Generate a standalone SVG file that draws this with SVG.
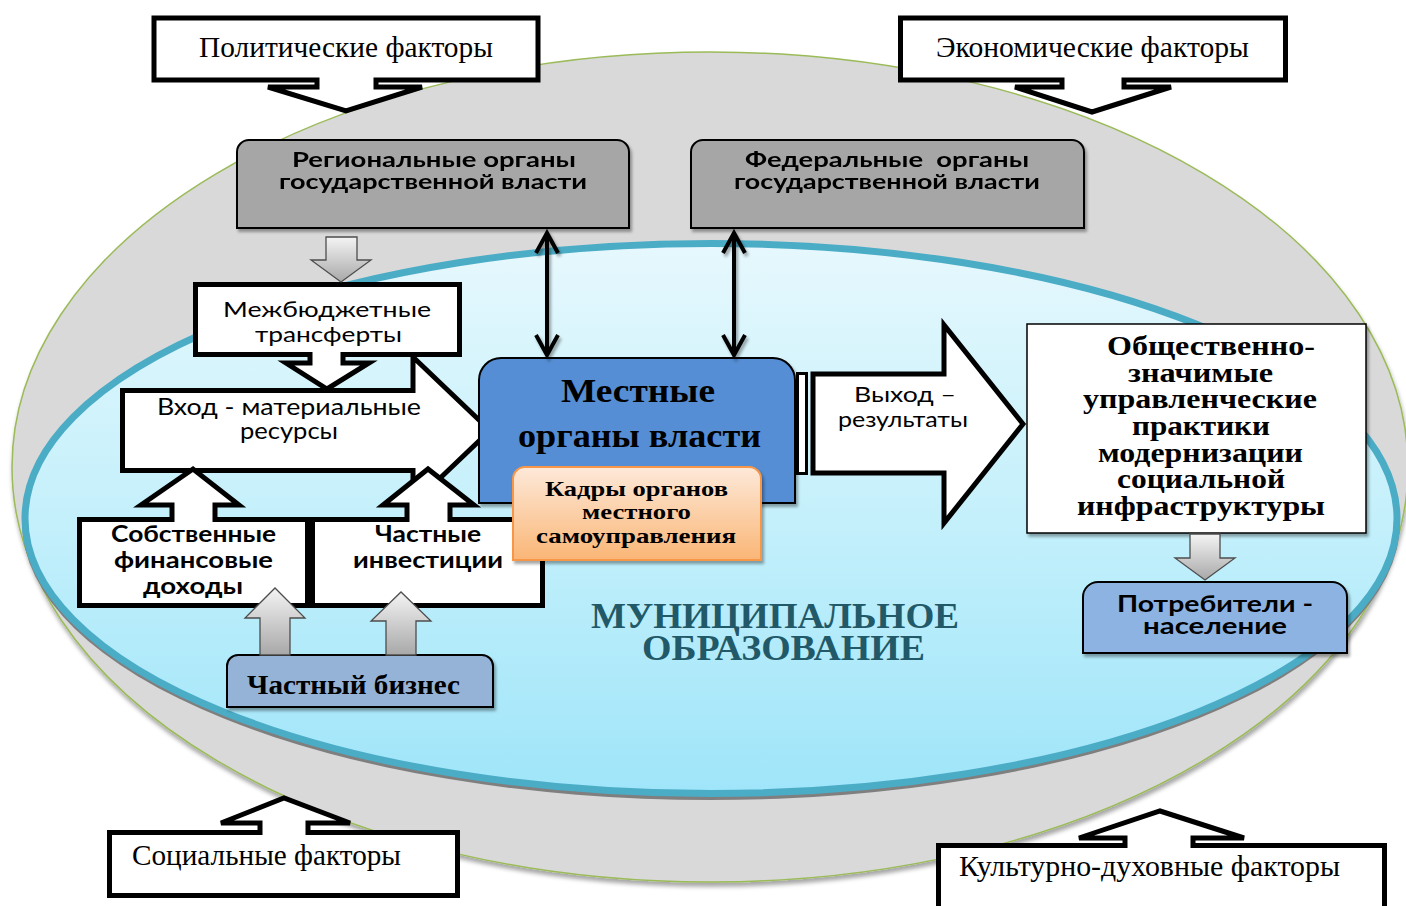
<svg xmlns="http://www.w3.org/2000/svg" width="1406" height="906" viewBox="0 0 1406 906">
<defs>
  <linearGradient id="gBlue" x1="0" y1="0" x2="0" y2="1">
    <stop offset="0" stop-color="#e6f8fd"/>
    <stop offset="0.5" stop-color="#c4f0fb"/>
    <stop offset="1" stop-color="#9fe5f9"/>
  </linearGradient>
  <linearGradient id="gArrow" x1="0" y1="0" x2="0" y2="1">
    <stop offset="0" stop-color="#f4f4f4"/>
    <stop offset="1" stop-color="#a8a8a8"/>
  </linearGradient>
  <linearGradient id="gOrange" x1="0" y1="0" x2="0" y2="1">
    <stop offset="0" stop-color="#fde9d9"/>
    <stop offset="1" stop-color="#fab676"/>
  </linearGradient>
  <filter id="sh" x="-10%" y="-10%" width="130%" height="140%">
    <feDropShadow dx="2" dy="3" stdDeviation="1.5" flood-color="#000" flood-opacity="0.35"/>
  </filter>
  <filter id="shs" x="-5%" y="-5%" width="110%" height="115%">
    <feDropShadow dx="1" dy="4" stdDeviation="2" flood-color="#000" flood-opacity="0.35"/>
  </filter>
</defs>
<style>
  .call{fill:#fff;stroke:#000;stroke-width:5;stroke-linejoin:miter}
  .gbox{fill:#a6a6a6;stroke:#000;stroke-width:2}
  .garrow{fill:url(#gArrow);stroke:#4d4d4d;stroke-width:1.3;stroke-linejoin:miter}
  .dbl{fill:none;stroke:#000;stroke-width:4}
  .ser{font-family:"Liberation Serif","Times New Roman",serif}
  .sans{font-family:Lato,"Open Sans","Noto Sans",sans-serif}
  .b{font-weight:bold}
  .fac{font-size:30px;fill:#000}
</style>
<rect x="0" y="0" width="1406" height="906" fill="#fff"/>

<g id="background">
  <ellipse cx="710" cy="467" rx="698" ry="415" fill="#d9d9d9" stroke="#9bbb59" stroke-width="1.5" filter="url(#shs)"/>
  <ellipse cx="711" cy="522" rx="689" ry="278" fill="#7f7f7f"/>
  <ellipse cx="711" cy="518.5" rx="686" ry="275" fill="url(#gBlue)" stroke="#4bacc6" stroke-width="7"/>
  <text class="ser b" font-size="36" fill="#215968" x="591" y="628" textLength="368" lengthAdjust="spacingAndGlyphs">МУНИЦИПАЛЬНОЕ</text>
  <text class="ser b" font-size="36" fill="#215968" x="642" y="660" textLength="283" lengthAdjust="spacingAndGlyphs">ОБРАЗОВАНИЕ</text>
</g>

<g id="political">
  <path class="call" d="M154,18 H538 V80 H376 V87 H422 L346,111 L268,87 H317 V80 H154 Z"/>
  <text class="ser fac" x="199" y="57" textLength="294" lengthAdjust="spacingAndGlyphs">Политические факторы</text>
</g>
<g id="economic">
  <path class="call" d="M900.5,18 H1285.5 V80 H1124 V87 H1171 L1092,112 L1015,87 H1062 V80 H900.5 Z"/>
  <text class="ser fac" x="936" y="57" textLength="313" lengthAdjust="spacingAndGlyphs">Экономические факторы</text>
</g>
<g id="social">
  <path class="call" d="M109.5,895.5 V832.5 H260 V823 H221 L284,798 L350,823 H308 V832.5 H457.5 V895.5 Z"/>
  <text class="ser fac" x="132" y="865" textLength="269" lengthAdjust="spacingAndGlyphs">Социальные факторы</text>
</g>
<g id="cultural">
  <path class="call" d="M938.5,930 V845.5 H1125 V838 H1079 L1160,811 L1244,838 H1193 V845.5 H1384.5 V930 Z"/>
  <text class="ser fac" x="959" y="876" textLength="381" lengthAdjust="spacingAndGlyphs">Культурно-духовные факторы</text>
</g>

<g id="regional" filter="url(#sh)">
  <path class="gbox" d="M237,228 V152 A12,12 0 0 1 249,140 H617 A12,12 0 0 1 629,152 V228 Z"/>
  <text class="sans b" font-size="21" x="292" y="167" textLength="284" lengthAdjust="spacingAndGlyphs">Региональные органы</text>
  <text class="sans b" font-size="21" x="279" y="189" textLength="308" lengthAdjust="spacingAndGlyphs">государственной власти</text>
</g>
<g id="federal" filter="url(#sh)">
  <path class="gbox" d="M691,228 V152 A12,12 0 0 1 703,140 H1072 A12,12 0 0 1 1084,152 V228 Z"/>
  <text class="sans b" font-size="21" x="745" y="167" textLength="284" lengthAdjust="spacingAndGlyphs" xml:space="preserve">Федеральные  органы</text>
  <text class="sans b" font-size="21" x="734" y="189" textLength="306" lengthAdjust="spacingAndGlyphs">государственной власти</text>
</g>

<g id="input">
  <path class="call" d="M122.5,390.5 H413 V357 L490,430.5 L413,504 V470.5 H122.5 Z"/>
  <text class="sans" font-size="23" x="157" y="415" textLength="264" lengthAdjust="spacingAndGlyphs">Вход - материальные</text>
  <text class="sans" font-size="23" x="240" y="439" textLength="98" lengthAdjust="spacingAndGlyphs">ресурсы</text>
</g>
<g id="transfers">
  <path class="call" d="M195.5,284.5 H459.5 V354.5 H343 V363 H369 L327,389 L286,363 H310 V354.5 H195.5 Z"/>
  <text class="sans" font-size="22" x="223" y="317" textLength="208" lengthAdjust="spacingAndGlyphs">Межбюджетные</text>
  <text class="sans" font-size="22" x="255" y="342" textLength="147" lengthAdjust="spacingAndGlyphs">трансферты</text>
</g>
<g id="own-income">
  <path class="call" d="M79.5,605.5 V519.5 H172 V505 H141 L193,469 L239,505 H215 V519.5 H307.5 V605.5 Z"/>
  <text class="sans b" font-size="23" x="111" y="542" textLength="165" lengthAdjust="spacingAndGlyphs">Собственные</text>
  <text class="sans b" font-size="23" x="114" y="568" textLength="159" lengthAdjust="spacingAndGlyphs">финансовые</text>
  <text class="sans b" font-size="23" x="143" y="594" textLength="100" lengthAdjust="spacingAndGlyphs">доходы</text>
</g>
<g id="private-invest">
  <path class="call" d="M312.5,605.5 V519.5 H407 V505 H383 L428,469 L474,505 H450 V519.5 H542.5 V605.5 Z"/>
  <text class="sans b" font-size="23" x="375" y="542" textLength="106" lengthAdjust="spacingAndGlyphs">Частные</text>
  <text class="sans b" font-size="23" x="353" y="568" textLength="150" lengthAdjust="spacingAndGlyphs">инвестиции</text>
</g>

<g id="local-gov">
  <path d="M479,503 V380 A22,22 0 0 1 501,358 H773 A22,22 0 0 1 795,380 V503 Z" fill="#558ed5" stroke="#000" stroke-width="2" filter="url(#sh)"/>
  <text class="ser b" font-size="34" x="561" y="402" textLength="154" lengthAdjust="spacingAndGlyphs">Местные</text>
  <text class="ser b" font-size="34" x="518" y="447" textLength="243" lengthAdjust="spacingAndGlyphs">органы власти</text>
</g>
<g id="staff">
  <path d="M513,560 V479 A12,12 0 0 1 525,467 H749 A12,12 0 0 1 761,479 V560 Z" fill="url(#gOrange)" stroke="#f79646" stroke-width="2" filter="url(#sh)"/>
  <text class="ser b" font-size="21" x="545" y="496" textLength="183" lengthAdjust="spacingAndGlyphs">Кадры органов</text>
  <text class="ser b" font-size="21" x="582" y="519" textLength="109" lengthAdjust="spacingAndGlyphs">местного</text>
  <text class="ser b" font-size="21" x="536" y="543" textLength="200" lengthAdjust="spacingAndGlyphs">самоуправления</text>
</g>

<g id="output">
  <rect x="797.5" y="373.5" width="9" height="100" fill="#fff" stroke="#000" stroke-width="3"/>
  <path class="call" d="M813,374 H944 V325 L1023,424 L944,523 V473 H813 Z"/>
  <text class="sans" font-size="22" x="854" y="402" textLength="102" lengthAdjust="spacingAndGlyphs">Выход –</text>
  <text class="sans" font-size="22" x="838" y="427" textLength="130" lengthAdjust="spacingAndGlyphs">результаты</text>
</g>

<g id="practices">
  <rect x="1027" y="324" width="339" height="209" fill="#fff" stroke="#000" stroke-width="1.5" filter="url(#sh)"/>
  <g class="ser b" font-size="28">
    <text x="1107" y="355" textLength="208" lengthAdjust="spacingAndGlyphs">Общественно-</text>
    <text x="1128" y="382" textLength="145" lengthAdjust="spacingAndGlyphs">значимые</text>
    <text x="1083" y="408" textLength="234" lengthAdjust="spacingAndGlyphs">управленческие</text>
    <text x="1132" y="435" textLength="138" lengthAdjust="spacingAndGlyphs">практики</text>
    <text x="1098" y="462" textLength="205" lengthAdjust="spacingAndGlyphs">модернизации</text>
    <text x="1117" y="488" textLength="168" lengthAdjust="spacingAndGlyphs">социальной</text>
    <text x="1077" y="515" textLength="248" lengthAdjust="spacingAndGlyphs">инфраструктуры</text>
  </g>
</g>

<g id="consumers">
  <path d="M1083,653 V597 A15,15 0 0 1 1098,582 H1332 A15,15 0 0 1 1347,597 V653 Z" fill="#8db3e2" stroke="#000" stroke-width="2" filter="url(#sh)"/>
  <text class="sans b" font-size="22" x="1117" y="612" textLength="196" lengthAdjust="spacingAndGlyphs">Потребители -</text>
  <text class="sans b" font-size="22" x="1143" y="634" textLength="144" lengthAdjust="spacingAndGlyphs">население</text>
</g>

<g id="business">
  <path d="M227,707 V666 A11,11 0 0 1 238,655 H482 A11,11 0 0 1 493,666 V707 Z" fill="#95b3d7" stroke="#000" stroke-width="2" filter="url(#sh)"/>
  <text class="ser b" font-size="28" x="247" y="694" textLength="213" lengthAdjust="spacingAndGlyphs">Частный бизнес</text>
</g>

<g id="connectors">
  <path class="garrow" d="M326,237 H357 V260 H371 L341,282 L311,260 H326 Z"/>
  <path class="garrow" d="M260,655 V618 H245 L275,588 L305,618 H290 V655 Z"/>
  <path class="garrow" d="M386,655 V621 H371 L401,592 L431,621 H416 V655 Z"/>
  <path class="garrow" d="M1190,534 H1220 V558 H1235 L1205,580 L1175,558 H1190 Z"/>
  <g filter="url(#sh)">
    <line class="dbl" x1="547" y1="233" x2="547" y2="354"/>
    <polyline class="dbl" points="536,253 547,233 558,253"/>
    <polyline class="dbl" points="536,335 547,355 558,335"/>
    <line class="dbl" x1="734" y1="233" x2="734" y2="354"/>
    <polyline class="dbl" points="723,253 734,233 745,253"/>
    <polyline class="dbl" points="723,335 734,355 745,335"/>
  </g>
</g>
</svg>
